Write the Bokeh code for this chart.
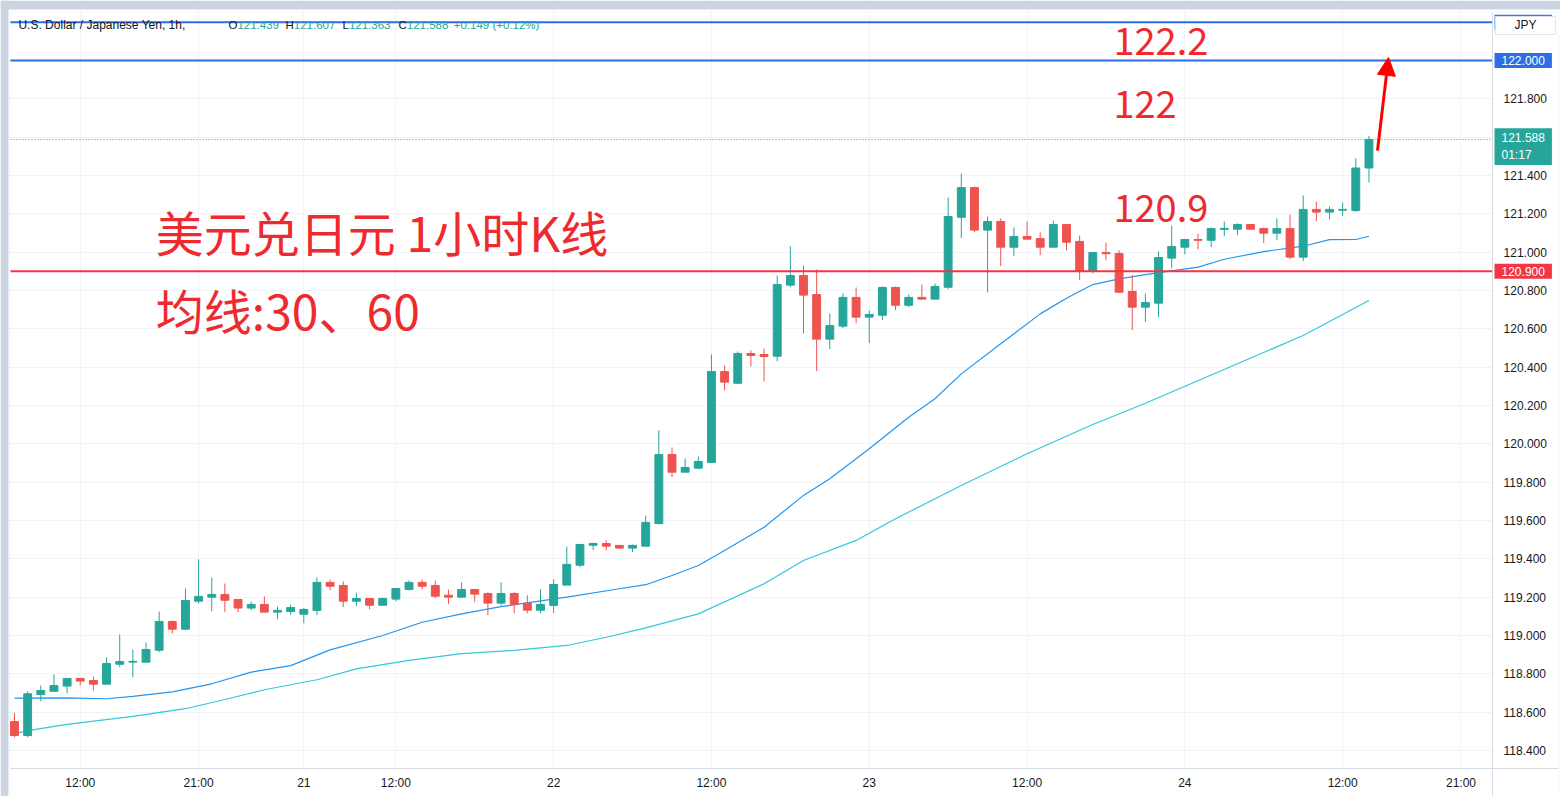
import numpy as np
from bokeh.plotting import figure
from bokeh.models import (ColumnDataSource, FixedTicker, PrintfTickFormatter, BoxAnnotation,
                          Label, Arrow, NormalHead, Range1d)
from bokeh.embed import file_html
from bokeh.resources import INLINE

# ---------------- data ----------------
opens = [
    118.551, 118.478, 118.692, 118.709, 118.736, 118.776, 118.765, 118.746, 118.850, 118.861,
    118.861, 118.923, 119.073, 119.033, 119.179, 119.200, 119.214, 119.188, 119.143, 119.162,
    119.122, 119.125, 119.111, 119.131, 119.277, 119.261, 119.179, 119.193, 119.158, 119.190,
    119.240, 119.277, 119.261, 119.210, 119.200, 119.240, 119.219, 119.169, 119.219, 119.169,
    119.132, 119.157, 119.263, 119.367, 119.471, 119.480, 119.470, 119.456, 119.466, 119.584,
    119.944, 119.852, 119.873, 119.903, 120.377, 120.316, 120.471, 120.466, 120.457, 120.828,
    120.878, 120.779, 120.546, 120.614, 120.764, 120.661, 120.671, 120.816, 120.723, 120.764,
    120.755, 120.817, 121.182, 121.337, 121.115, 121.160, 121.026, 121.082, 121.071, 121.026,
    121.144, 121.056, 120.901, 120.998, 120.993, 120.795, 120.713, 120.734, 120.969, 121.026,
    121.066, 121.062, 121.119, 121.120, 121.144, 121.123, 121.099, 121.123, 120.974, 121.223,
    121.209, 121.219, 121.217, 121.439]
closes = [
    118.478, 118.696, 118.713, 118.739, 118.776, 118.762, 118.746, 118.854, 118.864, 118.865,
    118.927, 119.073, 119.033, 119.183, 119.204, 119.214, 119.184, 119.143, 119.162, 119.122,
    119.131, 119.146, 119.136, 119.277, 119.257, 119.179, 119.193, 119.158, 119.193, 119.245,
    119.277, 119.257, 119.205, 119.200, 119.240, 119.216, 119.169, 119.219, 119.163, 119.132,
    119.162, 119.266, 119.371, 119.475, 119.480, 119.466, 119.456, 119.470, 119.590, 119.944,
    119.852, 119.877, 119.908, 120.377, 120.322, 120.471, 120.461, 120.456, 120.831, 120.878,
    120.776, 120.546, 120.617, 120.764, 120.661, 120.675, 120.816, 120.723, 120.764, 120.755,
    120.821, 121.186, 121.337, 121.115, 121.160, 121.026, 121.082, 121.068, 121.026, 121.144,
    121.052, 120.901, 120.998, 120.992, 120.791, 120.713, 120.737, 120.972, 121.030, 121.066,
    121.062, 121.123, 121.124, 121.144, 121.120, 121.099, 121.123, 120.974, 121.223, 121.209,
    121.223, 121.223, 121.439, 121.588]
highs = [
    118.595, 118.708, 118.739, 118.797, 118.776, 118.776, 118.786, 118.885, 119.005, 118.927,
    118.964, 119.125, 119.078, 119.245, 119.397, 119.303, 119.271, 119.188, 119.177, 119.204,
    119.151, 119.162, 119.143, 119.303, 119.292, 119.282, 119.224, 119.193, 119.198, 119.245,
    119.287, 119.292, 119.287, 119.240, 119.277, 119.240, 119.226, 119.277, 119.226, 119.210,
    119.242, 119.294, 119.464, 119.475, 119.485, 119.496, 119.470, 119.475, 119.626, 120.070,
    119.981, 119.924, 119.934, 120.466, 120.409, 120.482, 120.487, 120.497, 120.878, 121.030,
    120.930, 120.910, 120.680, 120.784, 120.816, 120.696, 120.821, 120.821, 120.779, 120.831,
    120.837, 121.285, 121.410, 121.343, 121.186, 121.176, 121.129, 121.160, 121.103, 121.165,
    121.144, 121.087, 120.998, 121.050, 121.009, 120.880, 120.784, 121.003, 121.139, 121.066,
    121.097, 121.129, 121.160, 121.150, 121.146, 121.129, 121.176, 121.197, 121.296, 121.264,
    121.238, 121.259, 121.490, 121.607]
lows = [
    118.469, 118.469, 118.657, 118.709, 118.699, 118.739, 118.713, 118.746, 118.835, 118.783,
    118.861, 118.913, 119.010, 119.031, 119.167, 119.127, 119.122, 119.122, 119.132, 119.122,
    119.085, 119.106, 119.064, 119.106, 119.236, 119.148, 119.153, 119.137, 119.158, 119.179,
    119.235, 119.242, 119.195, 119.163, 119.200, 119.174, 119.106, 119.158, 119.116, 119.116,
    119.116, 119.116, 119.263, 119.356, 119.445, 119.445, 119.456, 119.435, 119.466, 119.579,
    119.826, 119.852, 119.868, 119.903, 120.278, 120.311, 120.404, 120.325, 120.431, 120.817,
    120.577, 120.379, 120.494, 120.603, 120.629, 120.525, 120.645, 120.697, 120.713, 120.755,
    120.755, 120.807, 121.073, 121.104, 120.791, 120.927, 120.979, 121.068, 120.984, 121.026,
    121.010, 120.854, 120.890, 120.958, 120.791, 120.593, 120.635, 120.661, 120.916, 120.989,
    121.015, 121.026, 121.083, 121.089, 121.118, 121.047, 121.062, 120.963, 120.953, 121.162,
    121.172, 121.188, 121.210, 121.363]

# moving averages (at these bar indices)
ma30_idx = [0, 4, 7, 9, 12, 15, 18, 21, 24, 28, 31, 34, 37, 42, 46, 48, 50, 52, 54, 57,
            60, 62, 65, 68, 70, 72, 75, 78, 80, 82, 84, 86, 90, 92, 95, 98, 100, 102, 103]
ma30 = [118.673, 118.675, 118.670, 118.682, 118.706, 118.748, 118.809, 118.843, 118.925, 119.000,
        119.069, 119.113, 119.151, 119.200, 119.244, 119.265, 119.313, 119.365, 119.444, 119.565,
        119.731, 119.818, 119.974, 120.139, 120.235, 120.365, 120.522, 120.678, 120.760, 120.831,
        120.861, 120.883, 120.922, 120.963, 121.003, 121.031, 121.065, 121.066, 121.083]
ma60_idx = [0, 1, 4, 9, 13, 16, 19, 23, 26, 30, 34, 38, 42, 45, 48, 52, 57, 60, 64, 67,
            72, 77, 82, 86, 93, 98, 103]
ma60 = [118.487, 118.504, 118.536, 118.578, 118.618, 118.666, 118.717, 118.769, 118.826, 118.870,
        118.905, 118.922, 118.948, 118.991, 119.040, 119.113, 119.270, 119.391, 119.496, 119.609,
        119.783, 119.948, 120.101, 120.212, 120.418, 120.565, 120.748]

# time axis labels at bar indices
tick_idx = [5, 14, 22, 29, 41, 53, 65, 77, 89, 101, 110]
tick_labels = ["12:00", "21:00", "21", "12:00", "22", "12:00", "23", "12:00", "24", "12:00", "21:00"]

price_ticks = [118.4, 118.6, 118.8, 119.0, 119.2, 119.4, 119.6, 119.8, 120.0, 120.2,
               120.4, 120.6, 120.8, 121.0, 121.2, 121.4, 121.8]
grid_ticks = [118.4, 118.6, 118.8, 119.0, 119.2, 119.4, 119.6, 119.8, 120.0, 120.2,
              120.4, 120.6, 120.8, 121.0, 121.2, 121.4, 121.6, 121.8, 122.0, 122.2]

levels_blue = [122.2, 122.0]
level_red = 120.9
last_close = 121.588
header_name = "U.S. Dollar / Japanese Yen, 1h,"
ohlc_vals = ["121.439", "121.607", "121.363", "121.588"]
change_text = "+0.149 (+0.12%)"
title_line1 = "美元兑日元 1小时K线"
title_line2 = "均线:30、60"
level_notes = ["122.2", "122", "120.9"]

GREEN = "#26a69a"
RED = "#ef5350"
BLUE = "#2d6ee6"
LRED = "#f23645"
ANNO = "#ee2a2e"
TXT = "#131722"
STRIP = "#cdd5e3"

# pane geometry (in axis units)
X0, XSEP, XEND = -0.304, 112.4, 117.42     # pane left, price-scale separator, right edge
YBOT, YTOP = 118.306, 122.25                 # pane bottom / top
XTAG = 112.55                                # left edge of the price tags

# ---------------- figure ----------------
o = np.array(opens); c = np.array(closes); h = np.array(highs); l = np.array(lows)
x = np.arange(len(o))
colors = np.where(c >= o, GREEN, RED)
src = ColumnDataSource(dict(x=x, top=np.maximum(o, c), bottom=np.minimum(o, c),
                            high=h, low=l, color=colors))

p = figure(width=1560, height=796, output_backend="svg", toolbar_location=None,
           x_range=Range1d(-1.065, 117.567), y_range=Range1d(118.160, 122.313),
           y_axis_location="right", min_border=0)
p.background_fill_color = "white"
p.border_fill_color = "white"
p.outline_line_color = None

p.xgrid.ticker = FixedTicker(ticks=tick_idx)
p.ygrid.ticker = FixedTicker(ticks=grid_ticks)
p.xgrid.grid_line_color = "#f0f3fa"
p.ygrid.grid_line_color = "#f0f3fa"

# cover grid outside the price pane, page strips, pane border
p.add_layout(BoxAnnotation(left=XSEP, fill_color="white", fill_alpha=1, line_alpha=0, level="underlay"))
p.add_layout(BoxAnnotation(top=YBOT, fill_color="white", fill_alpha=1, line_alpha=0, level="underlay"))
p.add_layout(BoxAnnotation(top=YTOP + 0.02, bottom=YTOP, fill_color="white", fill_alpha=1,
                           line_alpha=0, level="underlay"))
p.add_layout(BoxAnnotation(left=X0, right=XEND, top=YTOP + 0.005, fill_alpha=0,
                           line_color="#e0e3eb", line_width=1, level="underlay"))
p.add_layout(BoxAnnotation(right=-0.456, fill_color=STRIP, fill_alpha=1, line_alpha=0, level="underlay"))
p.add_layout(BoxAnnotation(bottom=122.266, fill_color=STRIP, fill_alpha=1, line_alpha=0, level="underlay"))

xa = p.xaxis[0]
xa.fixed_location = YBOT
xa.bounds = (X0, XEND)
xa.ticker = FixedTicker(ticks=tick_idx)
xa.major_label_overrides = {i: s for i, s in zip(tick_idx, tick_labels)}
xa.major_tick_out = 0; xa.major_tick_in = 0; xa.minor_tick_out = 0; xa.minor_tick_in = 0
xa.axis_line_color = "#d6dae3"
xa.major_label_text_font = "Liberation Sans"
xa.major_label_text_font_size = "12px"
xa.major_label_text_color = TXT
xa.major_label_standoff = 7

ya = p.yaxis[0]
ya.fixed_location = XSEP
ya.bounds = (118.16, YTOP)
ya.ticker = FixedTicker(ticks=price_ticks)
ya.formatter = PrintfTickFormatter(format="%.3f")
ya.major_tick_out = 0; ya.major_tick_in = 0; ya.minor_tick_out = 0; ya.minor_tick_in = 0
ya.axis_line_color = "#d6dae3"
ya.major_label_text_font = "Liberation Sans"
ya.major_label_text_font_size = "12px"
ya.major_label_text_color = TXT
ya.major_label_standoff = 11

# moving averages
p.line(ma60_idx, ma60, line_color="#33c7dc", line_width=1.2)
p.line(ma30_idx, ma30, line_color="#2196f3", line_width=1.2)

# candles
p.segment(x0="x", y0="low", x1="x", y1="high", color="color", line_width=1, source=src)
p.vbar(x="x", top="top", bottom="bottom", width=0.6, fill_color="color",
       line_color="color", line_width=1, source=src)

# horizontal levels (across the price pane only)
for lv in levels_blue:
    p.segment(x0=X0, y0=lv, x1=XSEP, y1=lv, line_color=BLUE, line_width=2)
p.segment(x0=X0, y0=level_red, x1=XSEP, y1=level_red, line_color=LRED, line_width=2)
p.segment(x0=X0, y0=last_close, x1=XSEP, y1=last_close, line_color=GREEN,
          line_width=1, line_dash="1 2")


def lab(xv, yv, text, color, size="11px", font="Liberation Sans", **kw):
    p.add_layout(Label(x=xv, y=yv, text=text, text_color=color, text_font_size=size,
                       text_font=font, text_baseline="middle", **kw))


# header legend
lab(0.30, 122.183, header_name, TXT, size="12px")
letter_x = [16.27, 20.61, 24.94, 29.20]
value_x = [16.95, 21.24, 25.43, 29.83]
for letter, lx, vx, val in zip("OHLC", letter_x, value_x, ohlc_vals):
    lab(lx, 122.183, letter, TXT, size="11.5px")
    lab(vx, 122.183, val, GREEN, size="11.5px")
lab(33.40, 122.183, change_text, GREEN, size="11.5px")

# annotations in red
lab(10.75, 121.112, title_line1, ANNO, size="48px", font="Noto Sans CJK SC")
lab(10.75, 120.705, title_line2, ANNO, size="48px", font="Noto Sans CJK SC")
for txt, yv in zip(level_notes, [122.104, 121.775, 121.228]):
    lab(83.57, yv, txt, ANNO, size="38px", font="Noto Sans CJK SC")

p.add_layout(Arrow(end=NormalHead(size=18, fill_color="#ff0000", line_color="#ff0000"),
                   x_start=103.65, y_start=121.530, x_end=104.49, y_end=122.016,
                   line_color="#ff0000", line_width=3))

# price-scale tags
pad = dict(left=7, right=7, top=3, bottom=3)
lab(XTAG, 122.2, "122.200", "white", size="12px", background_fill_color=BLUE, padding=pad)
lab(XTAG, 122.0, "122.000", "white", size="12px", background_fill_color=BLUE, padding=pad)
lab(XTAG, 121.551, "121.588\n01:17", "white", size="12px",
    background_fill_color=GREEN, padding=pad)
lab(XTAG, level_red, "120.900", "white", size="12px", background_fill_color=LRED, padding=pad)
lab(114.90, 122.183, "JPY", TXT, size="12px", text_align="center",
    background_fill_color="white", border_line_color="#e0e3eb",
    padding=dict(left=19, right=19, top=2, bottom=2))

open("out.html", "w").write(file_html(p, INLINE))
